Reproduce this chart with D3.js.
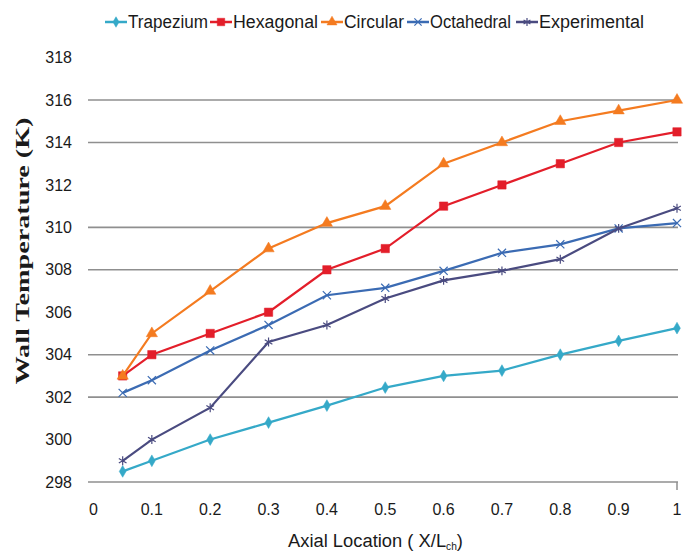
<!DOCTYPE html>
<html lang="en">
<head>
<meta charset="utf-8">
<title>Wall temperature vs axial location</title>
<script src="https://d3js.org/d3.v7.min.js"></script>
<style>
  body { margin: 0; background: #fff; }
  text { font-family: "Liberation Sans", Arial, sans-serif; fill: #1a1a1a; }
</style>
</head>
<body>
<script>
// data
var xLoc = [0.05, 0.1, 0.2, 0.3, 0.4, 0.5, 0.6, 0.7, 0.8, 0.9, 1.0];
var trapezium    = [298.5, 299, 300, 300.8, 301.6, 302.45, 303, 303.25, 304, 304.65, 305.25];
var hexagonal    = [303, 304, 305, 306, 308, 309, 311, 312, 313, 314, 314.5];
var circular     = [303, 305, 307, 309, 310.2, 311, 313, 314, 315, 315.5, 316];
var octahedral   = [302.2, 302.8, 304.2, 305.4, 306.8, 307.15, 307.95, 308.8, 309.2, 309.95, 310.2];
var experimental = [299, 300, 301.5, 304.6, 305.4, 306.65, 307.5, 307.95, 308.5, 309.95, 310.9];

var seriesNames = ["Trapezium", "Hexagonal", "Circular", "Octahedral", "Experimental"];
var xTicks = [0, 0.1, 0.2, 0.3, 0.4, 0.5, 0.6, 0.7, 0.8, 0.9, 1];
var yTicks = [298, 300, 302, 304, 306, 308, 310, 312, 314, 316, 318];
var gridVals = [298, 302, 304, 308, 310, 314, 316];

var w = 685, h = 554;

var series = [
  {name: "Trapezium", vals: trapezium, color: "#35a9c8", sym: d3.symbolDiamond, size: 40, filled: true},
  {name: "Hexagonal", vals: hexagonal, color: "#e31e2a", sym: d3.symbolSquare, size: 70, filled: true},
  {name: "Circular", vals: circular, color: "#f47b20", sym: d3.symbolTriangle, size: 55, filled: true},
  {name: "Octahedral", vals: octahedral, color: "#3b6bb3", sym: d3.symbolTimes, size: 45, filled: false},
  {name: "Experimental", vals: experimental, color: "#4a4b80", sym: d3.symbolAsterisk, size: 55, filled: false}
];

var x = d3.scaleLinear().domain([0, 1]).range([93.5, 677]);
var y = d3.scaleLinear().domain([298, 318]).range([482, 57.6]);

var svg = d3.select("body").append("svg")
  .attr("width", w).attr("height", h);

// gridlines (only some show in the original)
svg.selectAll("line.grid")
  .data(gridVals)
  .enter().append("line")
  .attr("class", "grid")
  .attr("x1", 88).attr("x2", 678)
  .attr("y1", function (d) { return y(d); })
  .attr("y2", function (d) { return y(d); })
  .attr("stroke", "#8f8f8f")
  .attr("stroke-width", 1.6);

// tick at right end of x axis
svg.append("line")
  .attr("x1", x(1)).attr("x2", x(1))
  .attr("y1", y(298)).attr("y2", y(298) + 8)
  .attr("stroke", "#8f8f8f").attr("stroke-width", 1.5);

// y tick labels
svg.selectAll("text.ytick")
  .data(yTicks)
  .enter().append("text")
  .attr("class", "ytick")
  .attr("x", 72)
  .attr("y", function (d) { return y(d); })
  .attr("dy", "0.35em")
  .attr("text-anchor", "end")
  .style("font-size", "16px")
  .text(function (d) { return d; });

// x tick labels
svg.selectAll("text.xtick")
  .data(xTicks)
  .enter().append("text")
  .attr("class", "xtick")
  .attr("x", function (d) { return x(d); })
  .attr("y", 515)
  .attr("text-anchor", "middle")
  .style("font-size", "16px")
  .text(function (d) { return d; });

// axis titles
var xt = svg.append("text")
  .attr("x", 288).attr("y", 547)
  .attr("textLength", 175).attr("lengthAdjust", "spacingAndGlyphs")
  .style("font-size", "18px");
xt.append("tspan").text("Axial Location  ( X/L");
xt.append("tspan").attr("dy", 3).style("font-size", "10px").text("ch");
xt.append("tspan").attr("dy", -3).text(")");

svg.append("text")
  .attr("transform", "translate(29,251) rotate(-90)")
  .attr("text-anchor", "middle")
  .attr("textLength", 267).attr("lengthAdjust", "spacingAndGlyphs")
  .style("font-family", "'Liberation Serif', 'Times New Roman', serif")
  .style("font-weight", "bold")
  .style("font-size", "19px")
  .text("Wall Temperature (K)");

// lines and markers
var line = d3.line()
  .x(function (d, i) { return x(xLoc[i]); })
  .y(function (d) { return y(d); });

series.forEach(function (s) {
  svg.append("path")
    .datum(s.vals)
    .attr("d", line)
    .attr("fill", "none")
    .attr("stroke", s.color)
    .attr("stroke-width", 2.2);

  svg.selectAll(null)
    .data(s.vals)
    .enter().append("path")
    .attr("transform", function (d, i) { return "translate(" + x(xLoc[i]) + "," + y(d) + ")"; })
    .attr("d", d3.symbol().type(s.sym).size(s.size))
    .attr("fill", s.filled ? s.color : "none")
    .attr("stroke", s.color)
    .attr("stroke-width", s.filled ? 0.5 : 1.2);
});

// legend
var legX = [105, 210, 321, 407, 516];
var legW = [80, 85, 60, 81, 105];
series.forEach(function (s, i) {
  var g = svg.append("g").attr("transform", "translate(" + legX[i] + ",22)");
  g.append("line").attr("x1", 0).attr("x2", 22)
    .attr("stroke", s.color).attr("stroke-width", 2.5);
  g.append("path")
    .attr("transform", "translate(11,0)")
    .attr("d", d3.symbol().type(s.sym).size(s.size * 0.8))
    .attr("fill", s.filled ? s.color : "none")
    .attr("stroke", s.color)
    .attr("stroke-width", s.filled ? 0.5 : 1.2);
  g.append("text")
    .attr("x", 23).attr("y", 0).attr("dy", "0.36em")
    .attr("textLength", legW[i]).attr("lengthAdjust", "spacingAndGlyphs")
    .style("font-size", "18px")
    .text(seriesNames[i]);
});
</script>
</body>
</html>
